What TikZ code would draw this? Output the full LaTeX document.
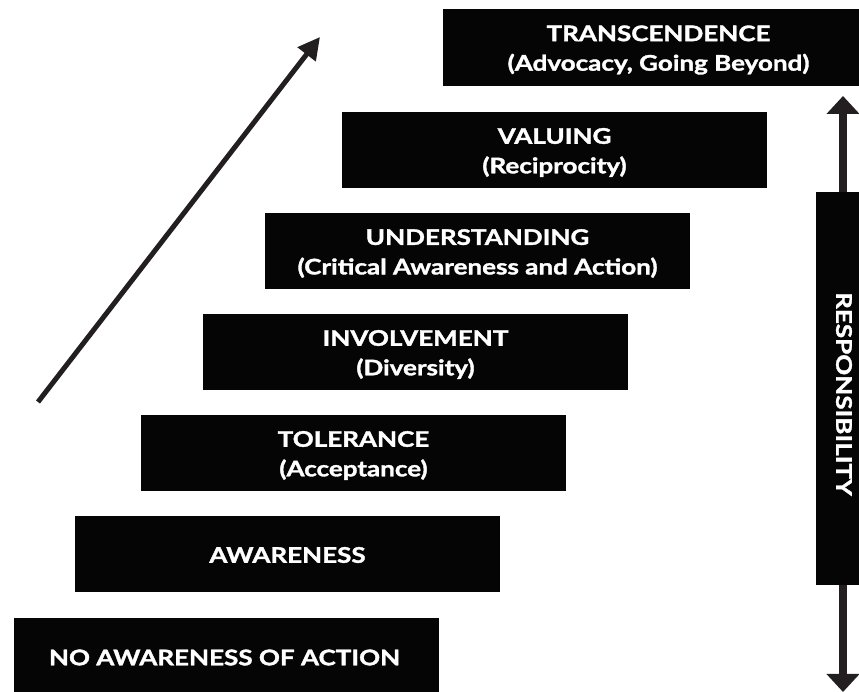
\documentclass[tikz,border=0pt]{standalone}
\usepackage{fontspec}
\setmainfont{Lato}[FakeStretch=1.21, BoldFeatures={FakeBold=1.6}]
\usetikzlibrary{arrows.meta}
\definecolor{boxblack}{HTML}{050505}
\definecolor{arrowgray}{HTML}{231F20}
\begin{document}
\begin{tikzpicture}[x=1pt,y=1pt,
  stair/.style={fill=boxblack, minimum width=425pt, minimum height=76pt, inner sep=0pt},
  stairtext/.style={text=white, inner sep=0pt, align=center, font=\fontsize{21.5}{29.5}\selectfont\bfseries},
  barlabel/.style={text=white, inner sep=0pt, font=\fontsize{21.5}{25}\selectfont\bfseries},
  bigarrow/.style={draw=arrowgray, line width=8pt, -{Triangle[length=18pt,width=32pt]}},
  diagarrow/.style={draw=arrowgray, line width=5pt, -{Triangle[length=22pt,width=22pt]}}]
\useasboundingbox (0,0) rectangle (859,692);
\node[stair] (noaw) at (226.5,36) {};
\node[stair] (aware) at (287.5,138) {};
\node[stair] (toler) at (353.5,239) {};
\node[stair] (invol) at (415.5,340) {};
\node[stair] (under) at (477.5,441) {};
\node[stair] (valu) at (554.5,542) {};
\node[stair, minimum height=77pt] (trans) at (655.5,644.5) {};
\node[stairtext] (noawtext) at ([xshift=-2pt,yshift=-1.5pt]noaw.center) {NO AWARENESS OF ACTION};
\node[stairtext] (awaretext) at ([yshift=-1pt]aware.center) {AWARENESS};
\node[stairtext] (tolertext) at ([yshift=-2.5pt]toler.center) {TOLERANCE\\(Acceptance)};
\node[stairtext] (involtext) at ([yshift=-2.5pt]invol.center) {INVOLVEMENT\\(Diversity)};
\node[stairtext] (undertext) at ([yshift=-2.5pt]under.center) {UNDERSTANDING\\(Critical Awareness and Action)};
\node[stairtext] (valutext) at ([yshift=-2.5pt]valu.center) {VALUING\\(Reciprocity)};
\node[stairtext] (transtext) at ([xshift=3pt,yshift=-2.5pt]trans.center) {TRANSCENDENCE\\(Advocacy, Going Beyond)};
\node[fill=boxblack, minimum width=54pt, minimum height=393pt, inner sep=0pt] (resp) at (843,303.5) {};
\node[barlabel, rotate=-90] (resplabel) at (844,298) {RESPONSIBILITY};
\coordinate (uptip) at (843,596);
\coordinate (downtip) at (843,0);
\draw[bigarrow] (resp.north) -- (uptip);
\draw[bigarrow] (resp.south) -- (downtip);
\coordinate (dstart) at (38,290);
\coordinate (dtip) at (320,655);
\draw[diagarrow] (dstart) -- (dtip);
\end{tikzpicture}
\end{document}
